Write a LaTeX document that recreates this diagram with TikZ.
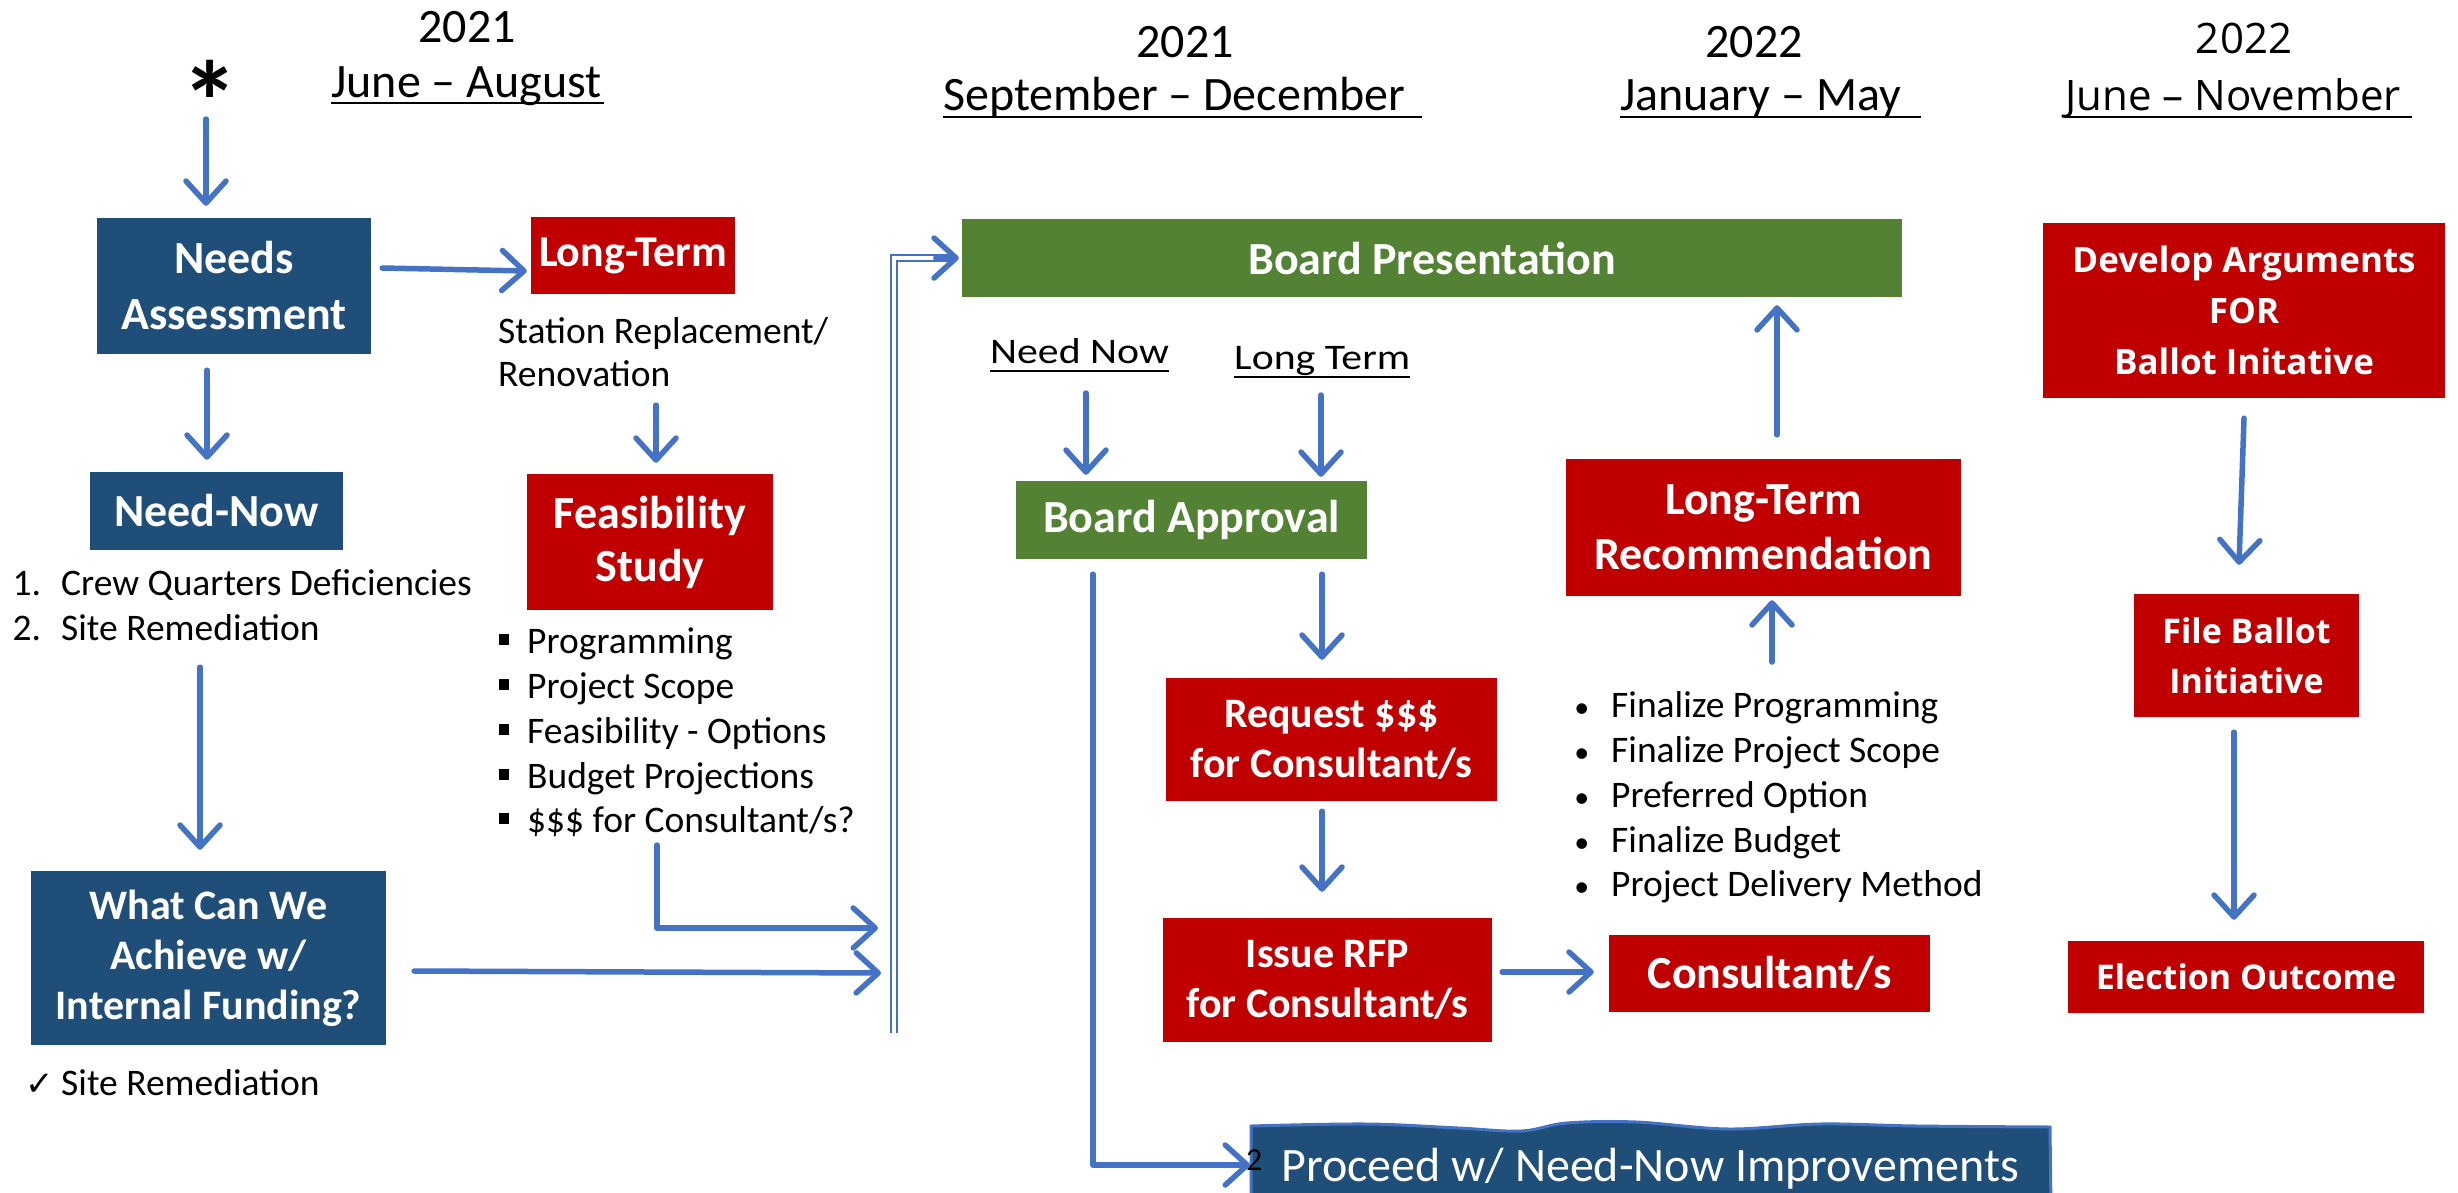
\documentclass[tikz,border=0pt]{standalone}
\usepackage{fontspec}
\setmainfont{Carlito}
\newfontfamily\seg{Open Sans}
\newfontfamily\dvs{DejaVu Sans}
\usetikzlibrary{arrows.meta}
\definecolor{nblue}{HTML}{1F4E79}
\definecolor{nred}{HTML}{C00000}
\definecolor{ngreen}{HTML}{548235}
\definecolor{arrblue}{HTML}{4472C4}
\newcommand{\fsz}[2]{\fontsize{#1pt}{#2pt}\selectfont}
\newcommand{\sqbul}{\makebox[0pt][r]{\raisebox{8pt}{\rule{10pt}{11pt}}\hspace{18pt}}}
\newcommand{\rdbul}{\makebox[0pt][r]{{\fsz{30}{30}\textbullet}\hspace{22pt}}}
\begin{document}
\begin{tikzpicture}[x=1pt,y=-1pt,
  box/.style={inner sep=0pt, align=center, text=white, font=\bfseries\fsz{46}{56}},
  bbox/.style={box, fill=nblue},
  rbox/.style={box, fill=nred},
  gbox/.style={box, fill=ngreen},
  sbox/.style={rbox, font=\seg\bfseries\fsz{34}{50}},
  arr/.style={draw=arrblue, line width=5.5pt, line cap=round, line join=round, -{Straight Barb[length=22pt,width=40pt,round]}},
  txt/.style={inner sep=0pt, anchor=base west, font=\fsz{37.5}{45}},
  hdr/.style={inner sep=0pt, anchor=base, font=\fsz{48}{58}},
  hdrw/.style={inner sep=0pt, anchor=base west, font=\fsz{48}{58}},
  hand/.style={inner sep=0pt, anchor=base west, font=\fsz{36}{44}},
  uline/.style={draw=black, line width=2.5pt},
  dbl/.style={draw=arrblue, line width=2pt, double=white, double distance=4pt}
]
\useasboundingbox (0,0) rectangle (2458,1192);
\clip (0,0) rectangle (2458,1192);

% ---------- headers ----------
\node[hdr] (h1y) at (467,42) {2021};
\node[hdr] (h1m) at (466.5,97) {June – August};
\draw[uline] ([yshift=-6pt]h1m.base west) -- ([yshift=-6pt,xshift=2pt]h1m.base east);
\node[hdr] (h2y) at (1185,57) {2021};
\node[hdrw] (h2m) at (943,110) {September – December};
\draw[uline] ([yshift=-7pt]h2m.base west) -- ([yshift=-7pt,xshift=17pt]h2m.base east);
\node[hdr] (h3y) at (1754,57) {2022};
\node[hdrw] (h3m) at (1620,110) {January – May};
\draw[uline] ([yshift=-7pt]h3m.base west) -- ([yshift=-7pt,xshift=20pt]h3m.base east);
\node[hdr, font=\seg\fsz{42}{50}] (h4y) at (2244,53) {2022};
\node[hdrw, font=\seg\fsz{42}{50}] (h4m) at (2065,110) {June – November};
\draw[uline] ([yshift=-7pt]h4m.base west) -- ([yshift=-7pt,xshift=11pt]h4m.base east);

% ---------- left column ----------
\node[inner sep=0pt, anchor=base, font=\bfseries\fsz{115}{115}] (star) at (210,142) {*};
\coordinate (starb) at (206,119);
\node[bbox, minimum width=274pt, minimum height=136pt] (needs) at (234,286) {Needs\\Assessment};
\node[bbox, minimum width=253pt, minimum height=78pt] (neednow) at (216.5,511) {Need-Now};
\node[txt] (nl1) at (61,595) {\makebox[0pt][r]{1.\hspace{20pt}}Crew Quarters Deficiencies};
\node[txt] (nl2) at (61,640) {\makebox[0pt][r]{2.\hspace{20pt}}Site Remediation};
\node[bbox, minimum width=355pt, minimum height=174pt, font=\bfseries\fsz{42}{50}] (what) at (208.5,958) {What Can We\\Achieve w/\\Internal Funding?};
\node[txt] (chk) at (61,1095) {\makebox[0pt][r]{{\dvs\fsz{34}{38}✓}\hspace{7pt}}Site Remediation};

\node[rbox, minimum width=204pt, minimum height=77pt, font=\bfseries\fsz{44}{54}] (longterm) at (633,255.5) {Long-Term};
\node[txt] (st1) at (498,343) {Station Replacement/};
\node[txt] (st2) at (498,386) {Renovation};
\node[rbox, minimum width=246pt, minimum height=136pt, font=\bfseries\fsz{46}{53}] (feas) at (650,542) {Feasibility\\Study};
\node[txt] (f1) at (527,653) {\sqbul Programming};
\node[txt] (f2) at (527,698) {\sqbul Project Scope};
\node[txt] (f3) at (527,743) {\sqbul Feasibility - Options};
\node[txt] (f4) at (527,788) {\sqbul Budget Projections};
\node[txt] (f5) at (527,832) {\sqbul \$\$\$ for Consultant/s?};

% ---------- middle ----------
\node[gbox, minimum width=940pt, minimum height=78pt] (boardpres) at (1432,258) {Board Presentation};
\node[hand] (nnl) at (990,363) {\scalebox{1.16}[1]{Need Now}};
\draw[uline] ([yshift=-8pt]nnl.base west) -- ([yshift=-8pt]nnl.base east);
\node[hand] (ltl) at (1234,369) {\scalebox{1.16}[1]{Long Term}};
\draw[uline] ([yshift=-8pt]ltl.base west) -- ([yshift=-8pt]ltl.base east);
\node[gbox, minimum width=351pt, minimum height=78pt] (boardappr) at (1191.5,520) {Board Approval};
\node[rbox, minimum width=331pt, minimum height=123pt, font=\bfseries\fsz{42}{50}] (request) at (1331.5,739.5) {Request \$\$\$\\for Consultant/s};
\node[rbox, minimum width=329pt, minimum height=124pt, font=\bfseries\fsz{42}{50}] (issue) at (1327.5,980) {Issue RFP\\for Consultant/s};
\node[rbox, minimum width=321pt, minimum height=77pt] (consult) at (1769.5,973.5) {Consultant/s};
\node[rbox, minimum width=395pt, minimum height=137pt, font=\bfseries\fsz{46}{55}] (ltr) at (1763.5,527.5) {Long-Term\\Recommendation};
\node[txt] (g1) at (1611,717) {\rdbul Finalize Programming};
\node[txt] (g2) at (1611,762) {\rdbul Finalize Project Scope};
\node[txt] (g3) at (1611,807) {\rdbul Preferred Option};
\node[txt] (g4) at (1611,852) {\rdbul Finalize Budget};
\node[txt] (g5) at (1611,896) {\rdbul Project Delivery Method};

% proceed box with wavy top
\filldraw[fill=nblue, draw=arrblue, line width=3pt]
  plot[smooth, tension=0.6] coordinates {(1251,1126) (1366,1124) (1458,1128) (1521,1131) (1567,1123) (1636,1122) (1728,1129) (1820,1124) (1917,1126) (2050,1127)}
  -- (2051,1210) -- (1251,1210) -- cycle;
\node[inner sep=0pt, anchor=base west, text=white, font=\fsz{48}{58}] (proceed) at (1281,1181) {Proceed w/ Need-Now Improvements};
\node[inner sep=0pt, anchor=base west, font=\fsz{32}{38}] (two) at (1246,1170) {2};
\coordinate (procL) at (1250,1165);

% ---------- right column ----------
\node[sbox, minimum width=402pt, minimum height=175pt, font=\seg\bfseries\fsz{35}{51}] (develop) at (2244,310.5) {Develop Arguments\\FOR\\Ballot Initative};
\node[sbox, minimum width=225pt, minimum height=123pt] (file) at (2246.5,655.5) {File Ballot\\Initiative};
\node[sbox, minimum width=356pt, minimum height=72pt] (election) at (2246,977) {Election Outcome};

% ---------- connectors ----------
\coordinate (fc) at (657,845);
\coordinate (j1) at (878,928);
\coordinate (j2) at (881,973);
\coordinate (dbot) at (894,1033);
\coordinate (nnA) at (1086,393);
\coordinate (ltA) at (1321,395);
\coordinate (finA) at (1772,662);

\draw[arr] (starb) -- ([xshift=-28pt,yshift=12pt]needs.north);
\draw[arr] ([xshift=-27pt,yshift=-16pt]needs.south) -- ([xshift=-9.5pt,yshift=12pt]neednow.north);
\draw[arr] ([xshift=-16.5pt,yshift=-117pt]neednow.south) -- ([xshift=-8.5pt,yshift=21pt]what.north);
\draw[arr] ([xshift=11pt,yshift=18pt]needs.east) -- ([xshift=-4pt,yshift=-15.5pt]longterm.west);
\draw[arr] ([xshift=23pt,yshift=-111pt]longterm.south) -- ([xshift=6pt,yshift=11pt]feas.north);
\draw[arr] (fc) |- (j1);
\draw[arr] ([xshift=28pt,yshift=-13pt]what.east) -- (j2);
\draw[dbl] (dbot) |- ([xshift=-12pt]boardpres.west);
\draw[arr] ([xshift=-26pt]boardpres.west) -- ([xshift=-3pt]boardpres.west);
\draw[arr] (nnA) -- ([xshift=-105.5pt,yshift=6pt]boardappr.north);
\draw[arr] (ltA) -- ([xshift=129.5pt,yshift=4pt]boardappr.north);
\draw[arr] ([xshift=130.5pt,yshift=-15pt]boardappr.south) -- ([xshift=-9.5pt,yshift=18pt]request.north);
\draw[arr] ([xshift=-9.5pt,yshift=-10pt]request.south) -- ([xshift=-5.5pt,yshift=26pt]issue.north);
\draw[arr] ([xshift=10pt,yshift=8pt]issue.east) -- ([xshift=-15pt,yshift=1.5pt]consult.west);
\draw[arr] (finA) -- ([xshift=8.5pt,yshift=-4pt]ltr.south);
\draw[arr] ([xshift=13.5pt,yshift=24pt]ltr.north) -- ([xshift=345pt,yshift=-8pt]boardpres.south);
\draw[arr] ([xshift=-98.5pt,yshift=-15pt]boardappr.south) |- (procL);
\draw[arr] ([yshift=-20pt]develop.south) -- ([xshift=-7.5pt,yshift=29pt]file.north);
\draw[arr] ([xshift=-12.5pt,yshift=-15pt]file.south) -- ([xshift=-12pt,yshift=21pt]election.north);
\end{tikzpicture}
\end{document}
